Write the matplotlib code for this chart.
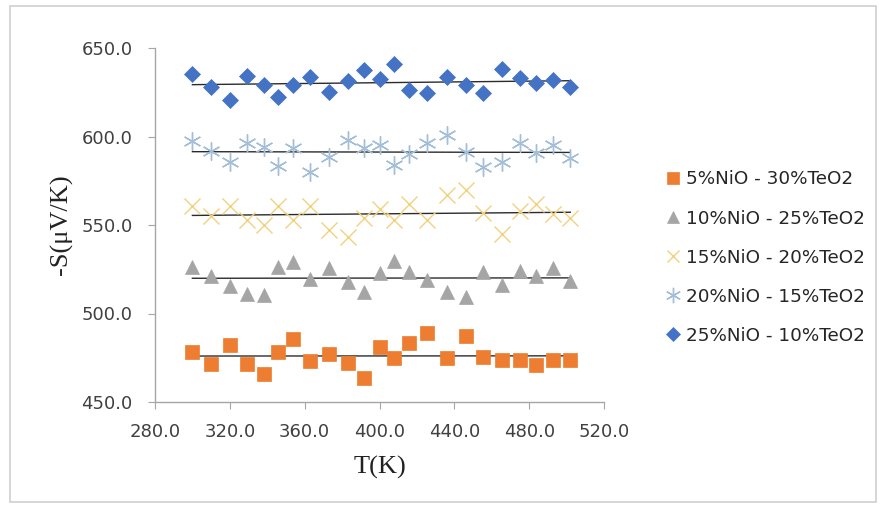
import numpy as np
import matplotlib
matplotlib.use("Agg")
import matplotlib.pyplot as plt
from matplotlib.ticker import FormatStrFormatter, MultipleLocator
from matplotlib.patches import Rectangle

T = [300, 310, 320, 329, 338, 345.5, 354, 363, 373, 383, 391.5, 400, 408,
     416, 425.5, 436, 446, 455.5, 465.5, 475, 483.5, 493, 502]

s_5 = [478.1, 471.3, 482.2, 471.3, 465.6, 478.4, 485.4, 473.3, 477.1, 471.9,
       463.4, 480.9, 474.7, 483.2, 488.8, 474.7, 487.3, 475.3, 473.7, 473.7,
       470.9, 473.7, 473.7]
s_10 = [526.4, 521.2, 515.7, 510.8, 510.5, 526.1, 529.3, 519.3, 525.5, 518.0,
        512.0, 522.9, 529.8, 523.6, 518.9, 512.3, 509.2, 523.3, 516.1, 524.2,
        521.2, 525.5, 518.5]
s_15 = [561.0, 555.0, 561.0, 553.0, 550.0, 561.0, 553.0, 561.0, 547.0, 543.0,
        554.0, 559.0, 553.0, 562.0, 553.0, 567.0, 570.0, 557.0, 545.0, 558.0,
        562.0, 556.0, 554.0]
s_20 = [597.5, 592.0, 585.8, 596.2, 593.9, 583.3, 593.3, 580.1, 588.6, 598.0,
        593.3, 595.2, 583.9, 590.1, 596.2, 600.8, 591.4, 582.6, 585.8, 596.2,
        590.8, 595.2, 587.7]
s_25 = [635.1, 628.1, 620.6, 634.4, 629.1, 622.5, 629.1, 633.4, 625.3, 631.5,
        637.6, 632.3, 640.8, 626.3, 624.4, 633.8, 629.1, 624.7, 638.1, 632.9,
        630.4, 631.9, 627.8]

labels = ["5%NiO - 30%TeO2", "10%NiO - 25%TeO2", "15%NiO - 20%TeO2",
          "20%NiO - 15%TeO2", "25%NiO - 10%TeO2"]

W, H = 881, 508
fig = plt.figure(figsize=(W / 100, H / 100), dpi=100)
fig.patches.append(Rectangle((10 / W, 6 / H), 866 / W, 496 / H, transform=fig.transFigure,
                             fill=False, edgecolor="#D0D0D0", linewidth=1.2))
ax = fig.add_axes([155 / W, 1 - 402 / H, (604 - 155) / W, (402 - 48) / H])

styles = [
    dict(marker="s", color="#ED7D31", ms=10.5, mec="#ED7D31", mew=0.5),
    dict(marker="^", color="#A5A5A5", ms=10, mec="#A5A5A5", mew=0.5),
    dict(marker="x", color="#F5D68C", ms=11, mec="#F2D27E", mew=1.0),
    dict(marker=(6, 2, 0), color="#A9C6DE", ms=13, mec="#A3BFD8", mew=1.0),
    dict(marker="D", color="#4472C4", ms=7.8, mec="#4472C4", mew=0.5),
]
series = [s_5, s_10, s_15, s_20, s_25]
Tarr = np.array(T)
for s, st, lab in zip(series, styles, labels):
    ax.plot(T, s, linestyle="none", label=lab, **st)
    c = np.polyfit(Tarr, np.array(s), 1)
    ax.plot([Tarr.min(), Tarr.max()], np.polyval(c, [Tarr.min(), Tarr.max()]),
            color="#2b2b2b", linewidth=1.0, zorder=1)

ax.set_xlim(280, 520)
ax.set_ylim(450, 650)
ax.xaxis.set_major_locator(MultipleLocator(40))
ax.yaxis.set_major_locator(MultipleLocator(50))
ax.xaxis.set_major_formatter(FormatStrFormatter("%.1f"))
ax.yaxis.set_major_formatter(FormatStrFormatter("%.1f"))
for sp in ["top", "right"]:
    ax.spines[sp].set_visible(False)
for sp in ["left", "bottom"]:
    ax.spines[sp].set_color("#A6A6A6")
    ax.spines[sp].set_linewidth(1.0)
ax.tick_params(direction="out", length=5, color="#A6A6A6", labelsize=13,
               labelcolor="#404040")
ax.tick_params(axis="y", pad=11)
ax.tick_params(axis="x", pad=10)
for t in ax.get_xticklabels() + ax.get_yticklabels():
    t.set_fontfamily("DejaVu Sans")

ax.set_xlabel("T(K)", family="Liberation Serif", fontsize=19, color="#222222", labelpad=11)
ax.set_ylabel("-S(μV/K)", family="Liberation Serif", fontsize=19, color="#222222", labelpad=6)

handles, labs = ax.get_legend_handles_labels()
leg = fig.legend(handles, labs, loc="upper left", bbox_to_anchor=(647 / W, 1 - 154 / H),
                 frameon=False, fontsize=13.2, labelspacing=1.15, handlelength=1.0,
                 handletextpad=0.25, markerscale=0.85)
for t in leg.get_texts():
    t.set_color("#262626")

fig.savefig("out.png", dpi=100)
